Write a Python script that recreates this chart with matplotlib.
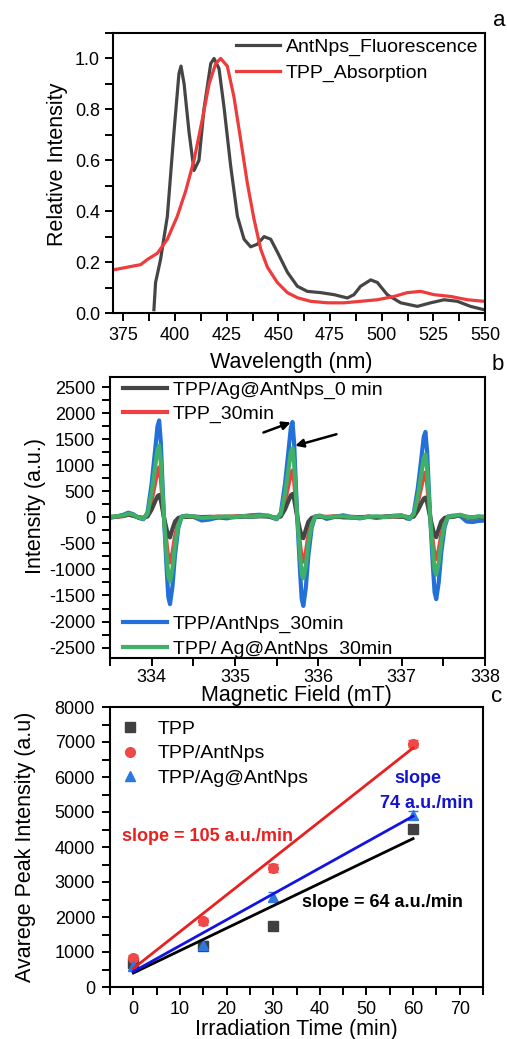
import matplotlib
matplotlib.use('Agg')
import matplotlib.pyplot as plt
from matplotlib.ticker import MultipleLocator

plt.rcParams['font.family'] = ['Liberation Sans', 'DejaVu Sans']
plt.rcParams['axes.unicode_minus'] = False

# ---- panel a : spectra ----
fl_x = [389.8, 390.6, 393.0, 396.3, 399.5, 401.9, 402.9, 404.4, 406.8, 409.2, 411.6, 414.0, 417.3,
        418.9, 421.3, 423.7, 426.9, 430.2, 433.4, 436.6, 439.8, 443.1, 446.3, 449.5, 454.4, 459.2,
        464.0, 470.5, 477.0, 483.4, 486.6, 489.8, 494.7, 497.9, 502.7, 509.2, 517.3, 523.7, 530.2,
        536.6, 543.0, 549.5]
fl_y = [0.013, 0.12, 0.21, 0.38, 0.71, 0.94, 0.97, 0.90, 0.71, 0.56, 0.60, 0.80, 0.98,
        1.00, 0.96, 0.81, 0.58, 0.38, 0.29, 0.26, 0.27, 0.30, 0.29, 0.24, 0.16, 0.105,
        0.085, 0.08, 0.072, 0.059, 0.072, 0.105, 0.13, 0.12, 0.072, 0.04, 0.026, 0.04, 0.052,
        0.046, 0.026, 0.013]
ab_x = [370.5, 376.9, 383.4, 386.6, 391.5, 396.3, 401.1, 405.2, 409.2, 413.2, 416.5, 419.7, 422.1,
        425.3, 428.5, 431.8, 435.0, 438.2, 441.5, 444.7, 449.5, 454.4, 459.2, 465.6, 473.7, 481.8,
        489.8, 497.9, 506.0, 512.4, 518.9, 525.3, 533.4, 541.5, 549.5]
ab_y = [0.17, 0.18, 0.19, 0.21, 0.235, 0.29, 0.38, 0.48, 0.60, 0.76, 0.90, 0.98, 1.00,
        0.97, 0.85, 0.68, 0.51, 0.37, 0.25, 0.18, 0.12, 0.08, 0.06, 0.046, 0.04, 0.04,
        0.046, 0.052, 0.065, 0.08, 0.085, 0.072, 0.065, 0.052, 0.046]

# ---- panel b : EPR spectra ----
field = [333.50, 333.58, 333.66, 333.72, 333.78, 333.84,
         333.90, 333.95, 334.00, 334.04, 334.07, 334.09, 334.11, 334.13, 334.15, 334.18, 334.20,
         334.22, 334.25, 334.28, 334.32, 334.36, 334.42,
         334.50, 334.60, 334.70, 334.80, 334.90, 335.00, 335.10, 335.20, 335.30, 335.40,
         335.50, 335.55, 335.60, 335.64, 335.67, 335.69, 335.71, 335.73, 335.75, 335.78, 335.80,
         335.82, 335.85, 335.88, 335.92, 335.96, 336.02,
         336.10, 336.20, 336.30, 336.40, 336.50, 336.60, 336.70, 336.80, 336.90, 337.00, 337.06,
         337.095, 337.145, 337.195, 337.235, 337.265, 337.285, 337.305, 337.325, 337.345, 337.375,
         337.395, 337.415, 337.445, 337.475, 337.515, 337.555, 337.615,
         337.70, 337.78, 337.85, 337.92, 338.00]
epr_0min = [10, 15, 30, 55, 30, 0,
            -9, 17, 150, 300, 405, 430, 330, 150, -19, -230, -350,
            -385, -220, -80, -10, 4, 9,
            15, 5, 10, 0, 10, 5, 15, 10, 20, 15,
            -9, 18, 155, 310, 425, 450, 345, 155, -20, -240, -365,
            -400, -235, -85, -10, 5, 10,
            0, 10, 5, 10, 0, 10, 5, 15, 20, 10, 5,
            -8, 15, 135, 265, 360, 380, 290, 135, -19, -225,
            -345, -380, -220, -80, -10, 4, 8,
            40, 10, 0, 10, 5]
epr_tpp = [5, 10, 25, 50, 35, 5,
           -19, 38, 330, 650, 900, 960, 740, 330, -43, -520, -790,
           -865, -680, -370, -104, 9, 19,
           10, 0, 5, 15, 10, 20, 25, 30, 40, 30,
           -18, 36, 310, 610, 845, 900, 695, 310, -43, -510, -775,
           -850, -670, -360, -102, 9, 17,
           10, 20, 0, -10, 5, 10, 0, 10, 15, 20, 10,
           -17, 34, 295, 585, 805, 860, 665, 295, -40, -480,
           -730, -800, -630, -340, -96, 8, 17,
           40, 0, -20, 0, 10]
epr_ant = [-10, 15, 50, 90, 60, -10,
           -37, 90, 650, 1270, 1750, 1860, 1440, 650, -83, -1000, -1530,
           -1666, -1320, -720, -200, 17, 33,
           10, -60, -40, 0, -20, 10, 20, 40, 50, 20,
           -37, 90, 640, 1250, 1720, 1830, 1415, 640, -85, -1020, -1560,
           -1700, -1350, -740, -204, 17, 34,
           -30, 10, 40, 0, -20, 15, -10, 10, 30, 40, -20,
           -33, 80, 575, 1120, 1545, 1640, 1270, 575, -79, -945,
           -1440, -1570, -1245, -680, -188, 16, 33,
           30, -80, -90, -70, -60]
epr_ag = [0, 20, 40, 70, 50, 0,
          -28, 65, 480, 940, 1300, 1380, 1070, 480, -62, -740, -1130,
          -1230, -975, -530, -148, 12, 25,
          20, -10, 0, 10, 15, 5, 25, 15, 30, 35,
          -27, 63, 460, 905, 1255, 1330, 1030, 460, -59, -700, -1075,
          -1170, -930, -505, -140, 12, 23,
          0, 15, 20, 5, -10, 10, 20, 5, 25, 30, 10,
          -24, 58, 420, 825, 1140, 1210, 935, 420, -55, -660,
          -1010, -1100, -870, -475, -132, 11, 24,
          50, 10, 0, 20, 10]

# ---- panel c : peak intensity vs time ----
t_min = [0, 15, 30, 60]
tpp_int = [684, 1159, 1748, 4513]
tpp_err = [60, 80, 90, 120]
ant_int = [827, 1872, 3392, 6955]
ant_err = [100, 110, 110, 110]
ag_int = [589, 1207, 2584, 4912]
ag_err = [90, 100, 120, 110]
fit_t = [0, 60]
fit_tpp = [400, 4240]
fit_ant = [530, 6830]
fit_ag = [440, 4880]

W, H = 507, 1039


def style_axes(ax):
    for s in ax.spines.values():
        s.set_linewidth(1.5)
    ax.tick_params(which='both', direction='out', length=5.8, width=1.4,
                   top=False, right=False, labelsize=13)


def main():
    fig = plt.figure(figsize=(W / 100, H / 100), dpi=100)
    fig.patch.set_facecolor('white')

    # panel a
    ax1 = fig.add_axes([113 / W, 1 - 313 / H, 372 / W, 280 / H])
    ax1.plot(fl_x, fl_y, color='#454545', lw=2.3, label='AntNps_Fluorescence')
    ax1.plot(ab_x, ab_y, color='#ee3b3b', lw=2.3, label='TPP_Absorption')
    ax1.set_xlim(370, 550)
    ax1.set_ylim(0, 1.1)
    ax1.xaxis.set_major_locator(MultipleLocator(25))
    ax1.xaxis.set_minor_locator(MultipleLocator(12.5))
    ax1.yaxis.set_major_locator(MultipleLocator(0.2))
    ax1.yaxis.set_minor_locator(MultipleLocator(0.1))
    ax1.yaxis.set_major_formatter(plt.FormatStrFormatter('%.1f'))
    style_axes(ax1)
    ax1.tick_params(axis='x', pad=4)
    ax1.tick_params(axis='y', pad=3.5)
    ax1.set_xlabel('Wavelength (nm)', fontsize=15.5)
    ax1.set_ylabel('Relative Intensity', fontsize=15.5)
    ax1.xaxis.set_label_coords(0.478, -0.139)
    ax1.yaxis.set_label_coords(-0.121, 0.53)
    ax1.legend(loc='upper left', bbox_to_anchor=(0.33, 0.98), frameon=False, fontsize=14,
               handlelength=2.27, handletextpad=0.3, labelspacing=0.4, borderpad=0, borderaxespad=0)
    fig.text(499 / W, 1 - 20 / H, 'a', fontsize=16, ha='center', va='center')

    # panel b
    ax2 = fig.add_axes([110 / W, 1 - 658 / H, 375 / W, 281.3 / H])
    l_ant, = ax2.plot(field, epr_ant, color='#2270d8', lw=3.0)
    l_tpp, = ax2.plot(field, epr_tpp, color='#ee4040', lw=3.0)
    l_0, = ax2.plot(field, epr_0min, color='#454545', lw=3.0)
    l_ag, = ax2.plot(field, epr_ag, color='#3fb068', lw=3.0)
    ax2.set_xlim(333.5, 338)
    ax2.set_ylim(-2700, 2700)
    ax2.xaxis.set_major_locator(MultipleLocator(1))
    ax2.xaxis.set_minor_locator(MultipleLocator(0.5))
    ax2.yaxis.set_major_locator(MultipleLocator(500))
    ax2.yaxis.set_minor_locator(MultipleLocator(250))
    ax2.xaxis.set_major_formatter(plt.FormatStrFormatter('%d'))
    style_axes(ax2)
    ax2.tick_params(axis='x', pad=2)
    ax2.tick_params(axis='y', pad=5)
    ax2.set_xlabel('Magnetic Field (mT)', fontsize=15.5)
    ax2.set_ylabel('Intensity (a.u.)', fontsize=15.5)
    ax2.xaxis.set_label_coords(0.498, -0.097)
    ax2.yaxis.set_label_coords(-0.17, 0.54)
    leg1 = ax2.legend([l_0, l_tpp], ['TPP/Ag@AntNps_0 min', 'TPP_30min'], loc='upper left',
                      bbox_to_anchor=(0.035, 0.985), frameon=False, fontsize=14,
                      handlelength=2.27, handletextpad=0.3, labelspacing=0.35, borderpad=0, borderaxespad=0)
    ax2.add_artist(leg1)
    ax2.legend([l_ant, l_ag], ['TPP/AntNps_30min', 'TPP/ Ag@AntNps_30min'], loc='lower left',
               bbox_to_anchor=(0.035, 0.0), frameon=False, fontsize=14,
               handlelength=2.27, handletextpad=0.3, labelspacing=0.35, borderpad=0, borderaxespad=0)
    ax2.annotate('', xy=(335.70, 1840), xytext=(335.31, 1610),
                 arrowprops=dict(arrowstyle='-|>', color='black', lw=1.8, mutation_scale=12))
    ax2.annotate('', xy=(335.69, 1360), xytext=(336.25, 1610),
                 arrowprops=dict(arrowstyle='-|>', color='black', lw=1.8, mutation_scale=12))
    fig.text(498 / W, 1 - 365 / H, 'b', fontsize=16, ha='center', va='center')

    # panel c
    ax3 = fig.add_axes([110 / W, 1 - 987 / H, 373 / W, 280 / H])
    ax3.errorbar(t_min, tpp_int, yerr=tpp_err, fmt='none', ecolor='#404040', capsize=3.5, elinewidth=1.2)
    ax3.errorbar(t_min, ant_int, yerr=ant_err, fmt='none', ecolor='#f04848', capsize=3.5, elinewidth=1.2)
    ax3.errorbar(t_min, ag_int, yerr=ag_err, fmt='none', ecolor='#2a78e0', capsize=3.5, elinewidth=1.2)
    ax3.plot(t_min, tpp_int, 's', color='#404040', ms=6.5, ls='none', label='TPP')
    ax3.plot(t_min, ant_int, 'o', color='#f04848', ms=7, ls='none', label='TPP/AntNps')
    ax3.plot(t_min, ag_int, '^', color='#2a78e0', ms=7, ls='none', label='TPP/Ag@AntNps')
    ax3.plot(fit_t, fit_ant, color='#e82020', lw=2)
    ax3.plot(fit_t, fit_tpp, color='#000000', lw=2)
    ax3.plot(fit_t, fit_ag, color='#1414e0', lw=2)
    ax3.set_xlim(-5, 75)
    ax3.set_ylim(0, 8000)
    ax3.xaxis.set_major_locator(MultipleLocator(10))
    ax3.xaxis.set_minor_locator(MultipleLocator(5))
    ax3.yaxis.set_major_locator(MultipleLocator(1000))
    ax3.yaxis.set_minor_locator(MultipleLocator(500))
    style_axes(ax3)
    ax3.tick_params(axis='x', pad=4)
    ax3.tick_params(axis='y', pad=5)
    ax3.set_xlabel('Irradiation Time (min)', fontsize=15.5)
    ax3.set_ylabel('Avarege Peak Intensity (a.u)', fontsize=15.5)
    ax3.xaxis.set_label_coords(0.5, -0.114)
    ax3.yaxis.set_label_coords(-0.198, 0.5)
    ax3.legend(loc='upper left', bbox_to_anchor=(0.027, 0.952), frameon=False, fontsize=14,
               handlelength=1.0, handletextpad=0.93, labelspacing=0.35, borderpad=0, borderaxespad=0)
    ax3.text(-2.4, 4286, 'slope = 105 a.u./min', color='#e82020', fontsize=13, fontweight='bold',
             ha='left', va='center')
    ax3.text(61.0, 5943, 'slope', color='#1414cc', fontsize=13, fontweight='bold',
             ha='center', va='center')
    ax3.text(62.9, 5257, '74 a.u./min', color='#1414cc', fontsize=13, fontweight='bold',
             ha='center', va='center')
    ax3.text(36.1, 2409, 'slope = 64 a.u./min', color='black', fontsize=13, fontweight='bold',
             ha='left', va='center')
    fig.text(497 / W, 1 - 697 / H, 'c', fontsize=16, ha='center', va='center')

    fig.savefig('out.png', dpi=100, facecolor='white')


if __name__ == '__main__':
    main()
